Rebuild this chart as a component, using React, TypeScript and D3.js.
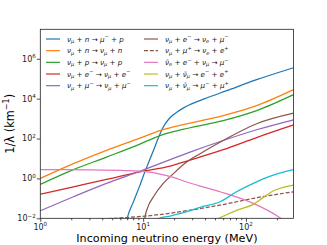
import * as d3 from 'd3';
import { useEffect, useRef } from 'react';

// energies in MeV, rates in km^-1
const ccNeutronE = [6.8, 7.0, 8.0, 9.3, 10, 11.2, 12.6, 14.1, 15.8, 17.8, 20, 25, 28.6, 40, 65, 127, 290];
const ccNeutronRate = [0.005, 0.01, 0.063, 0.447, 1.26, 5.6, 25.1, 112, 398, 955, 1660, 3548, 5012, 10000, 25100, 89100, 354800];

const nucleonE = [1, 2.1, 4.4, 9.3, 14.6, 28.6, 60, 127, 290];
const ncNeutronRate = [1.0, 5.5, 25.7, 105, 251, 589, 1413, 4467, 28200];
const ncProtonRate = [0.5, 2.75, 11.7, 52.5, 141, 347, 794, 2512, 15850];

const ncElectronE = [1, 2.1, 4.4, 9.3, 18.3, 28.6, 60, 127, 290];
const ncElectronRate = [0.162, 0.38, 0.89, 2.14, 4.17, 8.32, 27.5, 112, 479];

const ncMuonE = [1, 2.1, 4.4, 9.3, 28.6, 60, 127, 290];
const ncMuonRate = [0.024, 0.12, 0.56, 2.29, 20.9, 79.4, 275, 871];

const ccElectronE = [10.3, 10.4, 11, 12.6, 15.7, 19.7, 26.5, 35.8, 60, 127, 290];
const ccElectronRate = [0.006, 0.01, 0.0316, 0.12, 0.56, 1.74, 6.6, 17.4, 79.4, 550, 1862];

const muPlusE = [3.5, 6, 10.4, 18, 26.5, 56, 118, 290];
const muPlusRate = [0.0089, 0.0105, 0.0129, 0.0178, 0.024, 0.0457, 0.1, 0.214];

const antiNueE = [1, 3, 6, 9.3, 12, 14.6, 19.7, 26.5, 35.8, 56, 118, 207, 225];
const antiNueRate = [2.75, 2.69, 2.51, 2.34, 2.0, 1.66, 1.12, 0.66, 0.41, 0.214, 0.056, 0.012, 0.0089];

const pairEeE = [50, 60, 81, 118, 148, 185, 230, 290];
const pairEeRate = [0.0079, 0.0126, 0.0251, 0.05, 0.112, 0.24, 0.355, 0.457];

const pairMuMuE = [13, 15, 18.3, 26.5, 35.8, 56, 81, 118, 170, 290];
const pairMuMuRate = [0.0079, 0.0107, 0.0129, 0.0214, 0.0355, 0.0676, 0.214, 0.562, 1.26, 2.75];

const labels = [
  'ν_μ + n → μ^− + p',
  'ν_μ + n → ν_μ + n',
  'ν_μ + p → ν_μ + p',
  'ν_μ + e^− → ν_μ + e^−',
  'ν_μ + μ^− → ν_μ + μ^−',
  'ν_μ + e^− → ν_e + μ^−',
  'ν_μ + μ^+ → ν_e + e^+',
  'ν\u0304_e + e^− + ν_μ → μ^−',
  'ν_μ + ν\u0304_μ → e^− + e^+',
  'ν_μ + ν\u0304_μ → μ^− + μ^+',
];
const colors = ['#1f77b4', '#ff7f0e', '#2ca02c', '#d62728', '#9467bd', '#8c564b', '#8c564b', '#e377c2', '#bcbd22', '#17becf'];

const xTicks = [1, 10, 100];
const yTicks = [1e-2, 1e0, 1e2, 1e4, 1e6];

const series = [
  { e: ccNeutronE, v: ccNeutronRate },
  { e: nucleonE, v: ncNeutronRate },
  { e: nucleonE, v: ncProtonRate },
  { e: ncElectronE, v: ncElectronRate },
  { e: ncMuonE, v: ncMuonRate },
  { e: ccElectronE, v: ccElectronRate },
  { e: muPlusE, v: muPlusRate, dashed: true },
  { e: antiNueE, v: antiNueRate },
  { e: pairEeE, v: pairEeRate },
  { e: pairMuMuE, v: pairMuMuRate },
].map((s, i) => ({ ...s, label: labels[i], color: colors[i] }));

// write "a_b^c" style labels as tspans
function mathText(sel: d3.Selection<SVGTextElement, unknown, null, undefined>, str: string, fs: number) {
  const parts: { t: string; k: number }[] = [];
  let buf = '';
  let i = 0;
  while (i < str.length) {
    const c = str[i];
    if (c === '_' || c === '^') {
      if (buf) parts.push({ t: buf, k: 0 });
      buf = '';
      let t = str[i + 1];
      i += 2;
      if (str[i] === '\u0304') { t += str[i]; i++; }
      parts.push({ t, k: c === '_' ? 0.22 * fs : -0.42 * fs });
    } else {
      buf += c;
      i++;
    }
  }
  if (buf) parts.push({ t: buf, k: 0 });
  let cur = 0;
  parts.forEach((p) => {
    const ts = sel.append('tspan').text(p.t).attr('dy', p.k - cur);
    if (p.k !== 0) ts.attr('font-size', fs * 0.7);
    cur = p.k;
  });
}

export default function App() {
  const ref = useRef<SVGSVGElement | null>(null);

  useEffect(() => {
    if (!ref.current) return;
    const W = 327;
    const H = 245;
    const left = 40.3, right = 293.5, top = 29.3, bottom = 218.3;

    const svg = d3.select(ref.current).attr('width', W).attr('height', H);
    svg.selectAll('*').remove();
    svg.append('rect').attr('width', W).attr('height', H).attr('fill', '#fff');

    const x = d3.scaleLog().domain([1, 290]).range([left, right]);
    const y = d3.scaleLog().domain([0.01, 3e7]).range([bottom, top]);

    svg.append('clipPath').attr('id', 'plot-clip')
      .append('rect').attr('x', left).attr('y', top)
      .attr('width', right - left).attr('height', bottom - top);

    const line = d3.line<[number, number]>()
      .x((d) => x(d[0]))
      .y((d) => y(d[1]))
      .curve(d3.curveMonotoneX);

    const g = svg.append('g').attr('clip-path', 'url(#plot-clip)');
    series.forEach((s) => {
      g.append('path')
        .attr('d', line(s.e.map((e, i) => [e, s.v[i]] as [number, number])))
        .attr('fill', 'none')
        .attr('stroke', s.color)
        .attr('stroke-width', 1.25)
        .attr('stroke-dasharray', s.dashed ? '4,1.8' : null);
    });

    // ticks
    const xMinor: number[] = [];
    [1, 10, 100].forEach((d) => {
      for (let k = 2; k <= 9; k++) if (d * k <= 290) xMinor.push(d * k);
    });
    const xAx = svg.append('g').attr('transform', `translate(0,${bottom})`);
    xAx.call(d3.axisBottom(x).tickValues(xTicks).tickSize(3.5).tickFormat(() => ''));
    xAx.append('g').call(d3.axisBottom(x).tickValues(xMinor).tickSize(2).tickFormat(() => ''));
    const yAx = svg.append('g').attr('transform', `translate(${left},0)`);
    yAx.call(d3.axisLeft(y).tickValues(yTicks).tickSize(3.5).tickFormat(() => ''));
    svg.selectAll('.domain').remove();
    svg.selectAll('.tick line').attr('stroke', '#222').attr('stroke-width', 0.8);

    const font = 'DejaVu Sans';
    xTicks.forEach((t) => {
      const tx = svg.append('text').attr('x', x(t)).attr('y', bottom + 11.3)
        .attr('text-anchor', 'middle').attr('font-family', font).attr('font-size', 8).attr('fill', '#222');
      mathText(tx, `10^${Math.round(Math.log10(t))}`, 8);
    });
    yTicks.forEach((t) => {
      const e = Math.round(Math.log10(t));
      const ty = svg.append('text').attr('x', left - 4.5).attr('y', y(t) + 2.9)
        .attr('text-anchor', 'end').attr('font-family', font).attr('font-size', 8).attr('fill', '#222');
      ty.append('tspan').text('10');
      ty.append('tspan').text(e < 0 ? `−${-e}` : `${e}`).attr('dy', -3.4).attr('font-size', 5.6);
    });

    // frame
    svg.append('rect').attr('x', left).attr('y', top)
      .attr('width', right - left).attr('height', bottom - top)
      .attr('fill', 'none').attr('stroke', '#222').attr('stroke-width', 0.8);

    // axis labels
    svg.append('text').attr('x', (left + right) / 2).attr('y', 241.5)
      .attr('text-anchor', 'middle').attr('font-family', font).attr('font-size', 11.2)
      .text('Incoming neutrino energy (MeV)');
    const yl = svg.append('text')
      .attr('transform', `translate(13.5,${(top + bottom) / 2}) rotate(-90)`)
      .attr('text-anchor', 'middle').attr('font-family', font).attr('font-size', 11.4);
    yl.append('tspan').text('1/λ (km');
    yl.append('tspan').text('−1').attr('dy', -4.6).attr('font-size', 8);
    yl.append('tspan').text(')').attr('dy', 4.6);

    // legend, two columns filled column-wise
    series.forEach((s, i) => {
      const col = Math.floor(i / 5);
      const row = i % 5;
      const ly = 39 + row * 11.67;
      const lx = col === 0 ? 46 : 144;
      svg.append('line').attr('x1', lx).attr('x2', lx + 14).attr('y1', ly).attr('y2', ly)
        .attr('stroke', s.color).attr('stroke-width', 1.2)
        .attr('stroke-dasharray', s.dashed ? '4,1.8' : null);
      const t = svg.append('text').attr('x', lx + 21).attr('y', ly + 2.5)
        .attr('font-family', font).attr('font-style', 'italic').attr('font-size', 7.2).attr('fill', '#222');
      mathText(t, s.label, 7.2);
    });
  }, []);

  return (
    <div style={{ position: 'absolute', left: 0, top: 0 }}>
      <svg ref={ref} style={{ display: 'block' }} />
    </div>
  );
}
